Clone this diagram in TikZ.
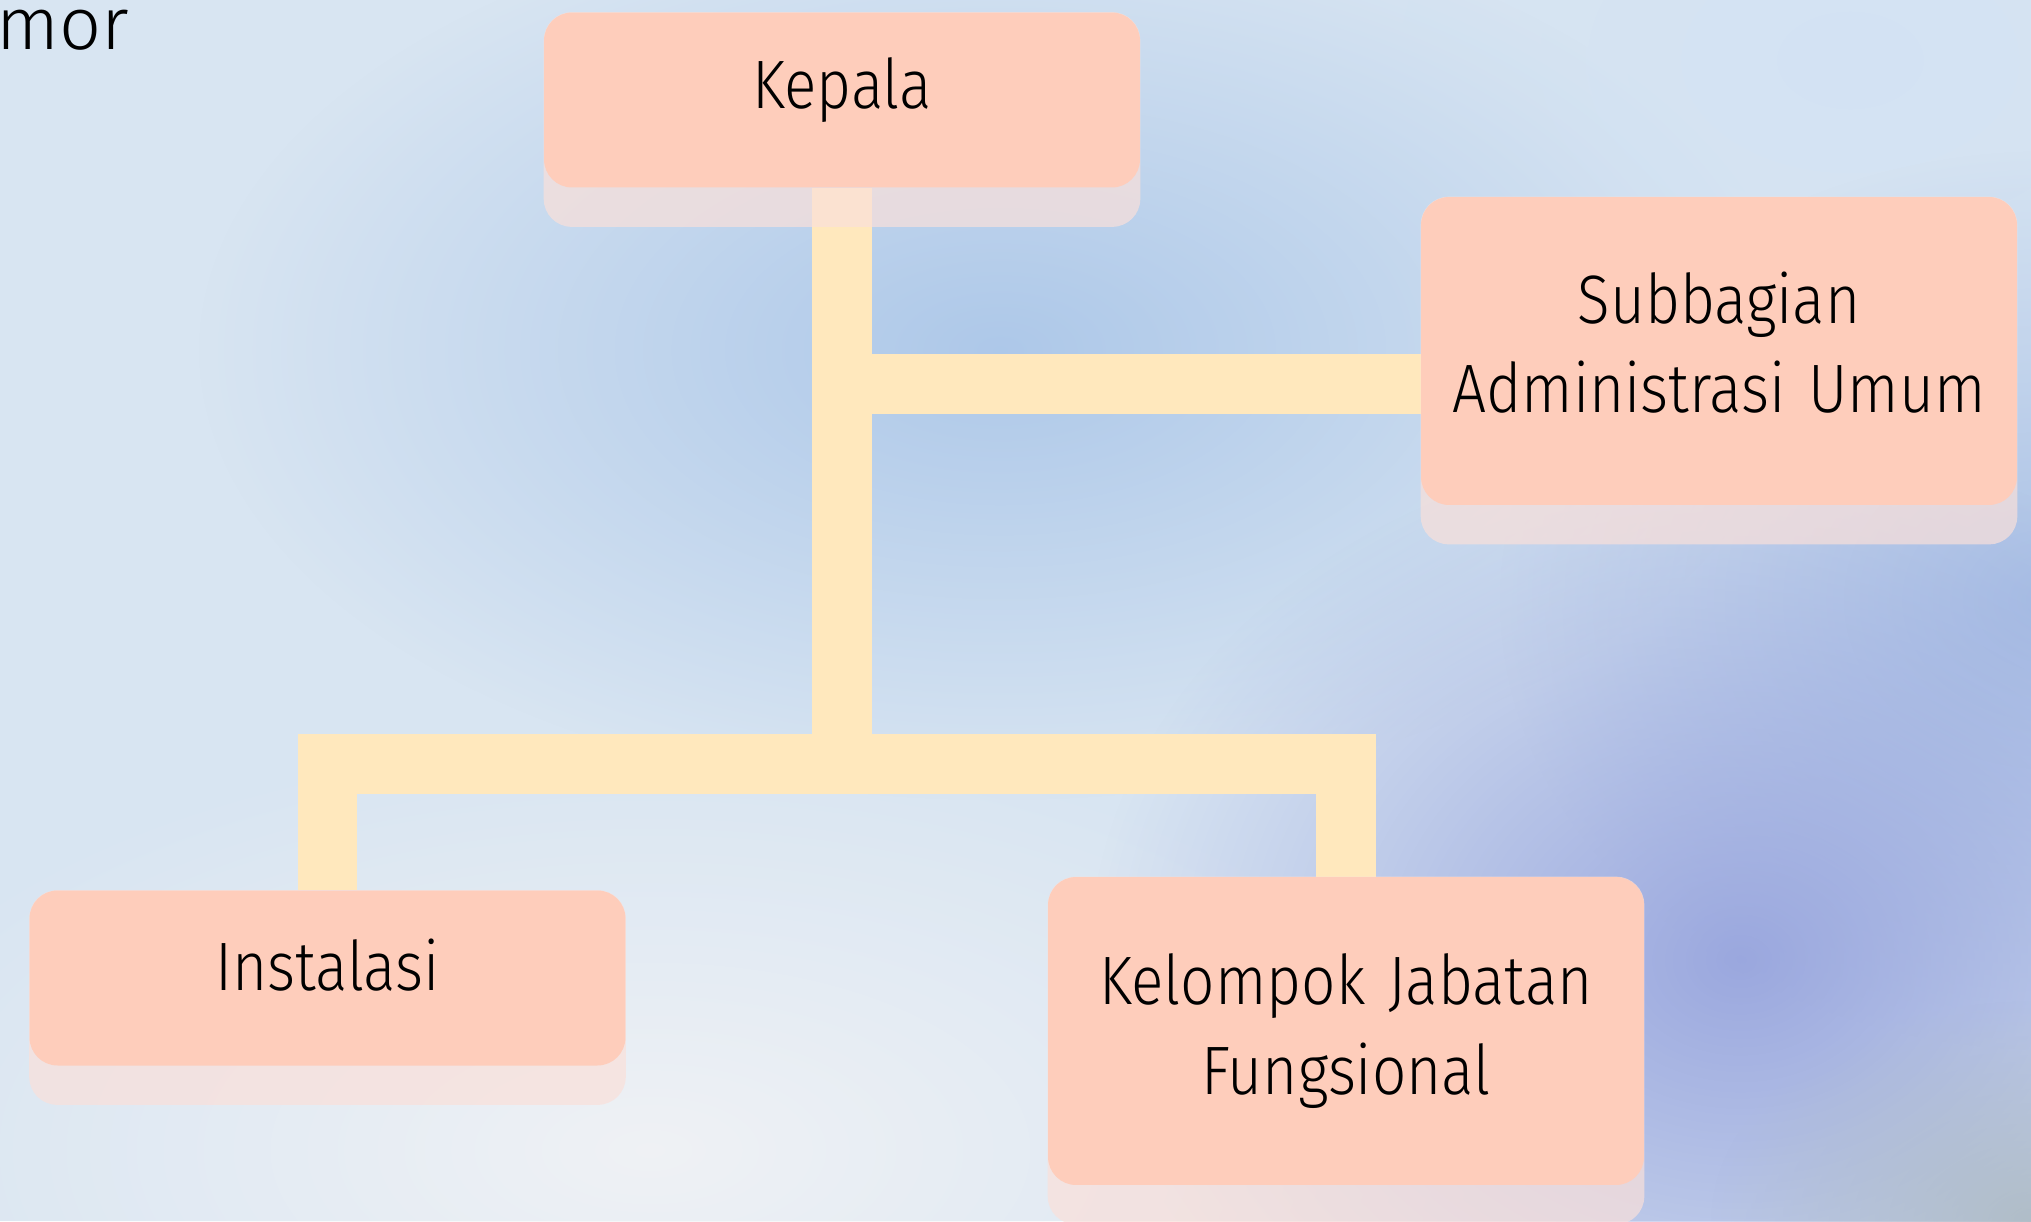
\documentclass[tikz,border=0pt]{standalone}
\usepackage{fontspec}
\setmainfont{Fira Sans Light}[FakeStretch=0.88]
\newfontfamily\morfont{Fira Sans Light}
\usetikzlibrary{fadings,calc}
\definecolor{peach}{HTML}{FECDBB}
\definecolor{cream}{HTML}{FFE8BD}
\definecolor{bgbase}{HTML}{D8E5F2}
\definecolor{bgblue}{HTML}{A9C5E8}
\definecolor{bgright}{HTML}{9EB7E2}
\definecolor{bgwhite}{HTML}{F2F3F5}
\definecolor{bgviolet}{HTML}{909DDB}
\definecolor{bggray}{HTML}{AEBBC4}
\definecolor{bgtopright}{HTML}{D2E2F4}
\definecolor{shadowc}{RGB}{250,224,218}
\tikzfading[name=softblob, inner color=transparent!0, outer color=transparent!100]
\pgfdeclarelayer{back}
\pgfdeclarelayer{conn}
\pgfdeclarelayer{shad}
\pgfsetlayers{back,conn,shad,main}
\begin{document}
\begin{tikzpicture}[x=0.02cm,y=-0.02cm,
  box/.style={fill=peach, rounded corners=0.56cm, minimum width=11.92cm,
    text width=11.5cm, align=center, inner sep=0pt,
    font=\fontsize{39}{51}\selectfont},
  smallbox/.style={box, minimum height=3.5cm},
  tallbox/.style={box, minimum height=6.16cm},
  bar/.style={draw=cream, line width=34pt, line cap=butt, line join=miter},
  shadowbox/.style={fill=shadowc, opacity=0.7, rounded corners=0.56cm},
  blob/.style={path fading=softblob}]
\useasboundingbox (0,0) rectangle (2031,1221);
\begin{pgfonlayer}{back}
  \clip (0,0) rectangle (2031,1221);
  \fill[bgbase] (0,0) rectangle (2031,1221);
  \fill[bgblue, blob, opacity=0.9] (1000,350) ellipse (800 and 450);
  \fill[bgtopright, blob, opacity=0.8] (1850,60) ellipse (450 and 300);
  \fill[bgright, blob, opacity=0.8] (2050,600) ellipse (550 and 450);
  \fill[bgwhite, blob, opacity=0.9] (650,1150) ellipse (850 and 420);
  \fill[bgviolet, blob, opacity=0.85] (1740,960) ellipse (650 and 520);
  \fill[bggray, blob, opacity=0.9] (2031,1221) ellipse (320 and 220);
\end{pgfonlayer}

\node[anchor=base west, inner sep=0pt, font=\morfont\fontsize{42}{50}\selectfont] (mor) at (-4,49) {mor};

\node[smallbox, text depth=19pt] (k) at (842,100) {Kepala};
\node[tallbox, text depth=61pt] (s) at (1719,351) {Subbagian\\Administrasi Umum};
\node[smallbox, text depth=15pt] (i) at (327.5,978) {Instalasi};
\node[tallbox] (f) at (1346,1031) {Kelompok Jabatan\\Fungsional};

\coordinate (j) at (842,764);
\coordinate (sj) at (842,384);

\begin{pgfonlayer}{shad}
  \foreach \n in {k,s,i,f}{
    \fill[shadowbox] (\n.north west) rectangle ($(\n.south east)+(0,39)$);
  }
\end{pgfonlayer}

\begin{pgfonlayer}{conn}
  \draw[bar] (k.south) -- (j);
  \draw[bar] (sj) -- (sj -| s.west);
  \draw[bar] (i.north) -- (i.north |- j) -- (f.north |- j) -- (f.north);
\end{pgfonlayer}
\end{tikzpicture}
\end{document}
